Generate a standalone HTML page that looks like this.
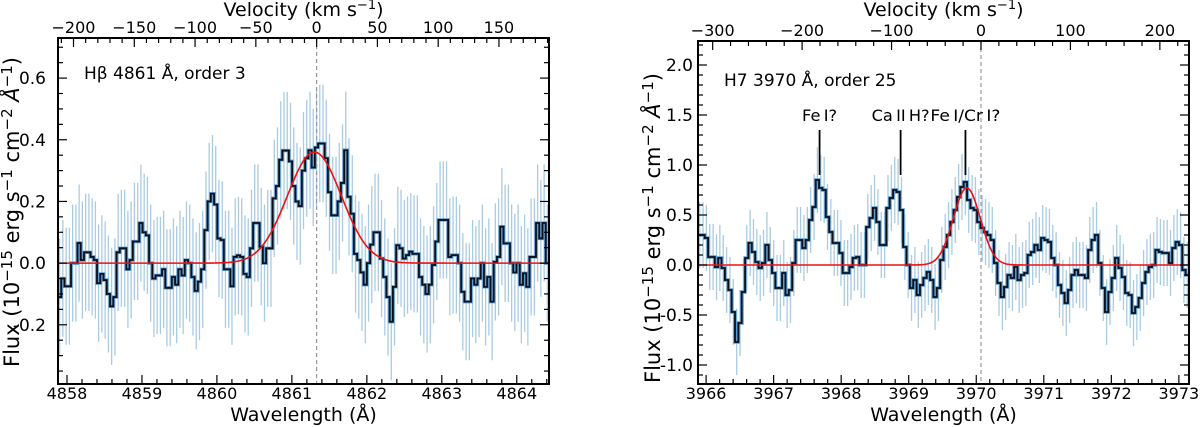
<!DOCTYPE html>
<html><head><meta charset="utf-8"><style>
html,body{margin:0;padding:0;background:#fff;}
svg{display:block;font-family:"DejaVu Sans","Liberation Sans",sans-serif;}
</style></head><body>
<svg id="chart" width="1200" height="427" viewBox="0 0 1200 427" xmlns="http://www.w3.org/2000/svg"></svg>
<script>
// ---- Left panel data (Hbeta) ----
const fluxL = [-0.11,-0.05,-0.075,-0.075,0.0,0.0,0.065,0.01,0.035,0.035,0.02,0.01,-0.065,-0.035,-0.055,-0.1,-0.14,-0.11,0.035,0.048,0.048,-0.02,0.01,0.07,0.07,0.13,0.10,0.09,0.0,-0.05,-0.04,-0.04,-0.02,-0.08,-0.08,-0.045,-0.07,-0.02,-0.04,0.01,0.0,-0.045,-0.09,-0.06,-0.02,0.107,0.2,0.225,0.19,0.08,0.075,-0.02,-0.02,-0.075,0.02,0.025,0.02,-0.035,-0.045,0.048,0.13,0.13,0.053,0.0,0.048,0.048,0.21,0.25,0.335,0.365,0.365,0.33,0.25,0.2,0.185,0.3,0.34,0.366,0.31,0.375,0.388,0.388,0.34,0.23,0.155,0.155,0.2,0.26,0.366,0.215,0.16,0.03,0.01,-0.03,-0.07,0.0,0.06,0.1,0.1,0.015,-0.045,-0.11,-0.19,-0.077,0.058,0.048,0.015,0.026,0.037,0.03,0.03,-0.045,-0.07,-0.1,-0.07,-0.006,0.07,0.14,0.14,0.14,0.02,0.026,0.026,0.0,-0.093,-0.125,-0.125,-0.05,-0.07,-0.05,0.0,-0.077,-0.045,-0.125,0.004,0.02,0.118,0.064,0.064,0.0,-0.03,0.0,-0.07,-0.033,-0.077,0.02,0.02,0.13,0.08,0.13,0.0];
const errL = 0.19;
const fitL = {amp:0.36, center:4861.30, sigma:0.36};
const xTicksL = [4858,4859,4860,4861,4862,4863,4864];
const yTicksL = [-0.2,0.0,0.2,0.4,0.6];
const yTickLabelsL = ["-0.2","0.0","0.2","0.4","0.6"];
const vTicksL = [-200,-150,-100,-50,0,50,100,150];

// ---- Right panel data (H7) ----
const fluxR = [0.3,0.3,0.27,0.08,0.08,-0.02,0.07,-0.03,-0.15,-0.25,-0.47,-0.77,-0.58,-0.27,0.07,0.22,0.13,0.03,-0.03,0.02,0.2,0.05,-0.08,-0.23,-0.23,-0.08,-0.3,-0.25,0.02,0.25,0.25,0.17,0.25,0.45,0.58,0.85,0.77,0.75,0.48,0.33,0.22,0.22,0.12,-0.08,-0.08,-0.02,0.07,0.08,0.0,0.0,0.38,0.47,0.57,0.43,0.2,0.2,0.57,0.67,0.75,0.73,0.55,0.18,0.0,-0.23,-0.15,-0.3,-0.2,-0.13,-0.07,-0.15,-0.32,-0.23,0.05,0.18,0.3,0.43,0.55,0.68,0.78,0.83,0.65,0.57,0.55,0.43,0.37,0.33,0.3,0.25,0.02,-0.18,-0.32,-0.22,-0.1,-0.13,-0.02,-0.15,-0.1,-0.08,0.1,0.13,0.2,0.15,0.27,0.25,0.23,0.07,0.0,-0.2,-0.28,-0.38,-0.25,-0.1,-0.05,-0.1,-0.1,-0.13,0.15,0.25,0.3,0.02,-0.23,-0.47,-0.27,-0.13,0.07,-0.03,-0.12,-0.28,-0.3,-0.48,-0.42,-0.33,-0.18,-0.07,-0.02,0.0,0.15,0.13,0.12,0.12,0.02,0.17,0.23,0.2,-0.05,-0.1];
const errR = 0.33;
const fitR = {amp:0.77, center:3969.86, sigma:0.2};
const xTicksR = [3966,3967,3968,3969,3970,3971,3972,3973];
const yTicksR = [-1.0,-0.5,0.0,0.5,1.0,1.5,2.0];
const yTickLabelsR = ["-1.0","-0.5","0.0","0.5","1.0","1.5","2.0"];
const vTicksR = [-300,-200,-100,0,100,200];
const lineLabels = ["Fe\u2009I?","Ca\u2009II\u2009H?","Fe\u2009I/Cr\u2009I?"];
const lineWaves = [3967.68,3968.88,3969.84];
const labelWidthsPx = [35,58,70];

const NS="http://www.w3.org/2000/svg";
const svg=document.getElementById('chart');
const C=299792.458;
function mk(tag,attrs,parent){const e=document.createElementNS(NS,tag);for(const k in attrs)e.setAttribute(k,attrs[k]);(parent||svg).appendChild(e);return e;}

function panel(cfg){
  const g=mk('g',{});
  
  
  const X=w=>cfg.x0+(w-cfg.wmin)/(cfg.wmax-cfg.wmin)*(cfg.x1-cfg.x0);
  const Y=v=>cfg.y1-(v-cfg.vmin)/(cfg.vmax-cfg.vmin)*(cfg.y1-cfg.y0);
  const clip=mk('clipPath',{id:cfg.name+'-clip'},g);
  mk('rect',{x:cfg.x0,y:cfg.y0,width:cfg.x1-cfg.x0,height:cfg.y1-cfg.y0},clip);
  const plot=mk('g',{'clip-path':'url(#'+cfg.name+'-clip)'},g);
  const flux=cfg.flux, n=flux.length, dw=(cfg.wmax-cfg.wmin)/n;
  const eg=mk('g',{},plot);
  
  
  for(let i=0;i<n;i++){
    const w=cfg.wmin+dw*(i+0.5);
    mk('line',{x1:X(w),x2:X(w),y1:Y(flux[i]-cfg.err),y2:Y(flux[i]+cfg.err),stroke:'#a9cbe4','stroke-width':1.3},eg);
  }
  const w0=cfg.rest;
  const zl=mk('line',{x1:X(w0),x2:X(w0),y1:cfg.y0,y2:cfg.y1,stroke:'#999','stroke-width':1.2,'stroke-dasharray':'4,3'},plot);
  
  
  let d='';
  for(let i=0;i<n;i++){
    const a=cfg.wmin+dw*i, b=a+dw;
    d+=(i===0?'M':'L')+X(a).toFixed(2)+','+Y(flux[i]).toFixed(2)+'L'+X(b).toFixed(2)+','+Y(flux[i]).toFixed(2);
  }
  mk('path',{d:d,fill:'none',stroke:'#5b9bd0','stroke-width':3.4},plot);
  const sp=mk('path',{d:d,fill:'none',stroke:'#0a0f18','stroke-width':1.8},plot);
  
  
  let fd='';
  for(let k=0;k<=400;k++){
    const w=cfg.wmin+(cfg.wmax-cfg.wmin)*k/400;
    const v=cfg.fit.amp*Math.exp(-Math.pow(w-cfg.fit.center,2)/(2*cfg.fit.sigma*cfg.fit.sigma));
    fd+=(k?'L':'M')+X(w).toFixed(2)+','+Y(v).toFixed(2);
  }
  const fp=mk('path',{d:fd,fill:'none',stroke:'#ee1111','stroke-width':1.6},plot);
  
  
  const fr=mk('rect',{x:cfg.x0,y:cfg.y0,width:cfg.x1-cfg.x0,height:cfg.y1-cfg.y0,fill:'none',stroke:'#000','stroke-width':2},g);
  
  
  const tk=mk('g',{stroke:'#000','stroke-width':1.2},g);
  for(let w=Math.ceil(cfg.wmin/cfg.xminor)*cfg.xminor; w<=cfg.wmax; w+=cfg.xminor){
    const major=Math.abs(w-Math.round(w))<1e-6; const L=major?9:5;
    mk('line',{x1:X(w),x2:X(w),y1:cfg.y1,y2:cfg.y1-L},tk);
  }
  cfg.xticks.forEach(w=>{
    const t=mk('text',{x:X(w),y:cfg.y1+15,'text-anchor':'middle','font-size':16},g);t.textContent=w;
    
    
  });
  for(let v=Math.ceil(cfg.vmin/cfg.yminor-1e-6)*cfg.yminor; v<=cfg.vmax+1e-9; v+=cfg.yminor){
    const major=cfg.yticks.some(t=>Math.abs(t-v)<1e-6); const L=major?9:5;
    mk('line',{x1:cfg.x0,x2:cfg.x0+L,y1:Y(v),y2:Y(v)},tk);
    mk('line',{x1:cfg.x1,x2:cfg.x1-L,y1:Y(v),y2:Y(v)},tk);
  }
  cfg.yticks.forEach((v,i)=>{
    const t=mk('text',{x:cfg.x0-cfg.ypad,y:Y(v)+6,'text-anchor':'end','font-size':17},g);t.textContent=cfg.ylabels[i];
    
    
  });
  const VX=vel=>X(cfg.rest*(1+vel/C));
  for(let vel=-400; vel<=400; vel+=cfg.vminor){
    const xx=VX(vel); if(xx<cfg.x0||xx>cfg.x1) continue;
    const major=cfg.vticks.includes(vel); const L=major?9:5;
    mk('line',{x1:xx,x2:xx,y1:cfg.y0,y2:cfg.y0+L},tk);
  }
  cfg.vticks.forEach(vel=>{
    const t=mk('text',{x:VX(vel),y:cfg.y0-5,'text-anchor':'middle','font-size':16},g);t.textContent=(vel<0?'\u2212'+(-vel):vel);
    
    
  });
  const xc=(cfg.x0+cfg.x1)/2;
  const xt=mk('text',{x:xc,y:421,'text-anchor':'middle','font-size':19},g);xt.textContent='Wavelength (Å)';
  
  
  const vt=mk('text',{x:xc,y:16,'text-anchor':'middle','font-size':19},g);
  vt.innerHTML='Velocity (km s<tspan dy="-7" font-size="13">−1</tspan><tspan dy="7">)</tspan>';
  
  
  const yt=mk('text',{x:0,y:0,'text-anchor':'middle','font-size':21,transform:'translate('+cfg.ytx+','+cfg.ytc+') rotate(-90)'},g);
  yt.innerHTML='Flux (10<tspan dy="-7" font-size="15">−15</tspan><tspan dy="7"> erg s</tspan><tspan dy="-7" font-size="15">−1</tspan><tspan dy="7"> cm</tspan><tspan dy="-7" font-size="15">−2</tspan><tspan dy="7"> </tspan><tspan font-style="italic">Å</tspan><tspan dy="-7" font-size="15">−1</tspan><tspan dy="7">)</tspan>';
  
  
  const an=mk('text',{x:cfg.x0+26,y:cfg.annY,'font-size':17},g);an.textContent=cfg.ann;
  
  
  return {X,Y,g};
}

panel({name:'hbeta-panel',x0:58,x1:549,y0:38,y1:384,wmin:4857.88,wmax:4864.43,vmin:-0.392,vmax:0.73,
  flux:fluxL,err:errL,fit:fitL,rest:4861.33,xticks:xTicksL,xminor:0.2,yticks:yTicksL,ylabels:yTickLabelsL,yminor:0.05,ypad:12,
  vticks:vTicksL,vminor:10,ytx:19,ytc:212,ann:'Hβ 4861 Å, order 3',annY:79});
const R=panel({name:'h7-panel',x0:698,x1:1189,y0:41,y1:384,wmin:3965.88,wmax:3973.15,vmin:-1.19,vmax:2.24,
  flux:fluxR,err:errR,fit:fitR,rest:3970.07,xticks:xTicksR,xminor:0.2,yticks:yTicksR,ylabels:yTickLabelsR,yminor:0.1,ypad:5,
  vticks:vTicksR,vminor:20,ytx:660,ytc:228,ann:'H7 3970 Å, order 25',annY:86});
lineWaves.forEach((w,i)=>{
  const x=R.X(w);
  const l=mk('line',{x1:x,x2:x,y1:130,y2:175,stroke:'#000','stroke-width':1.8},R.g);
  
  
  const t=mk('text',{x:x,y:121,'text-anchor':'middle','font-size':16,textLength:labelWidthsPx[i],lengthAdjust:'spacingAndGlyphs'},R.g);t.textContent=lineLabels[i];
  
  
});
</script>
</body></html>
